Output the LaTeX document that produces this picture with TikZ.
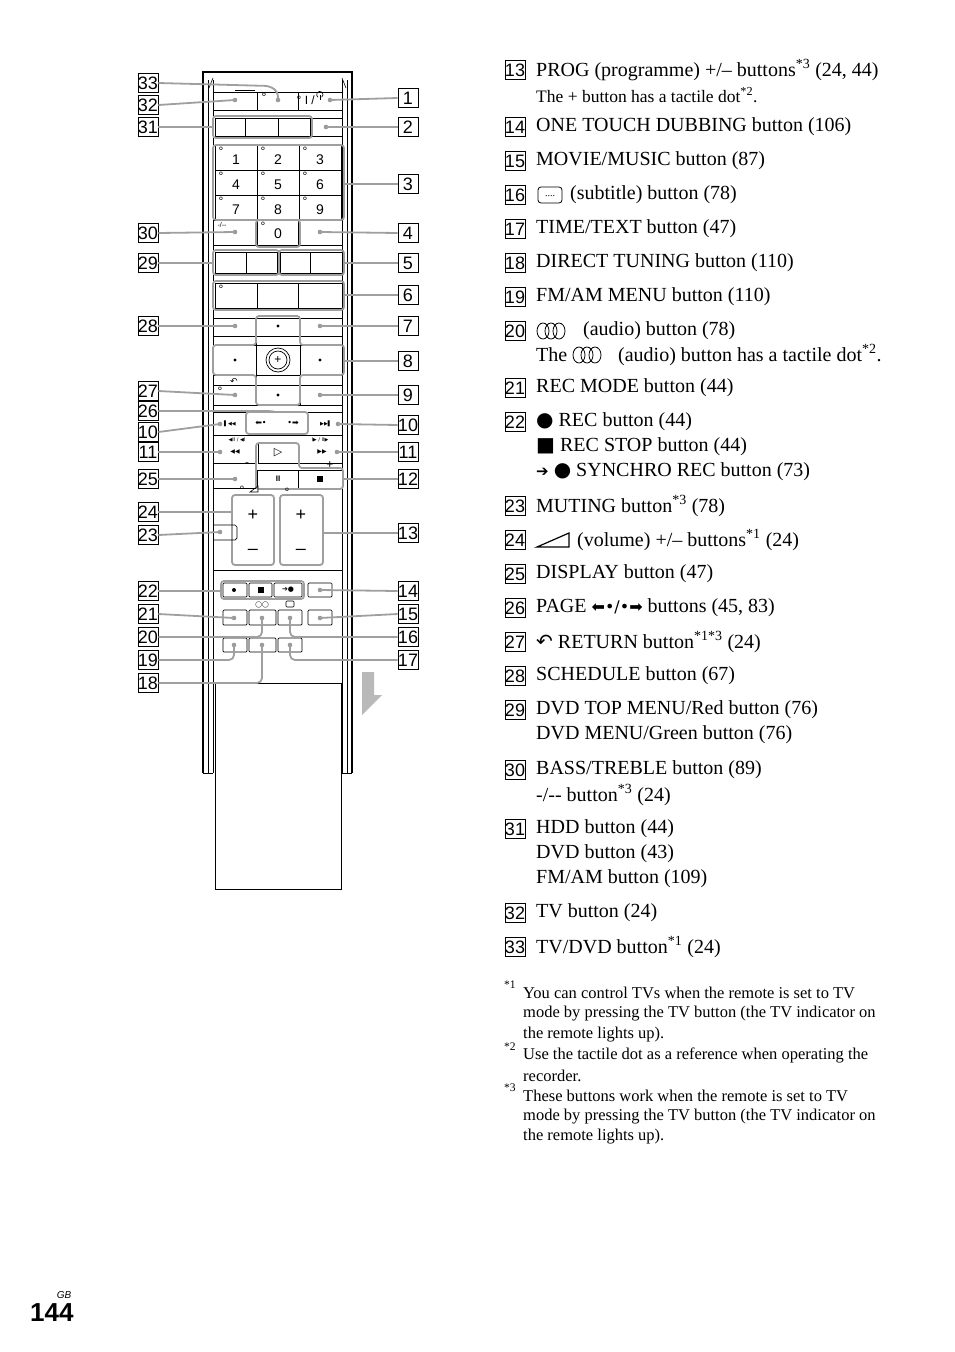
\documentclass[tikz,border=0pt]{standalone}
\usepackage{fontspec}
\setmainfont{Liberation Serif}
\setsansfont{Liberation Sans}
\newfontfamily\djv{DejaVu Sans}
\newcommand\sps[1]{\textsuperscript{#1}}
\begin{document}
\begin{tikzpicture}[x=1pt,y=-1pt,
  lbl/.style={draw,line width=0.8pt,inner sep=0pt,minimum width=20,minimum height=19,font=\sffamily\fontsize{18}{18}\selectfont},
  lead/.style={draw=gray!75,line width=1.8pt,rounded corners=5},
  grp/.style={draw=gray!75,line width=1.8pt,rounded corners=3},
  btn/.style={draw,line width=0.7pt},
  itm/.style={anchor=west,font=\fontsize{20}{24}\selectfont,inner sep=0pt},
  sub/.style={anchor=west,font=\fontsize{17.5}{20}\selectfont,inner sep=0pt},
  fn/.style={anchor=west,font=\fontsize{16.5}{18}\selectfont,inner sep=0pt},
  bl/.style={font=\sffamily\fontsize{12}{12}\selectfont,inner sep=0pt}]
\useasboundingbox (0,0) rectangle (954,1352);
% ---------- remote body
\draw[line width=2.5pt] (203,773) -- (203,72) -- (352,72) -- (352,773);
\foreach \x in {208,213,342,347}{\draw[line width=0.7pt] (\x,80) -- (\x,773);}
\draw[line width=0.7pt] (203,773) -- (213,773) (342,773) -- (352,773);
\draw[line width=0.6pt] (213,78) -- (209,88) (342,78) -- (346,88);
\draw[line width=0.6pt] (235,90) -- (255,90);
% flap
\draw[line width=1pt] (215,683) rectangle (341,889);
\draw[line width=0.7pt] (213,570) -- (342,570);
\fill[gray!55] (362,672) -- (374,672) -- (374,695) -- (382,695) -- (362,715) -- cycle;
% ---------- buttons
\draw[btn] (213,92) rectangle (257,110) (257,92) rectangle (298,110) (298,92) rectangle (342,110);
\node[bl,anchor=east] at (315,100) {° I /};
\draw[line width=0.6pt] (318,97.2) arc (125:415:3.2); \draw[line width=0.6pt] (319.8,95) -- (319.8,99.5);
\node[bl] at (264,97) {°};
\draw[btn] (215,118) rectangle (245,136) (245,118) rectangle (278,136) (278,118) rectangle (310,136) (310,118) rectangle (342,136);
% numpad
\foreach \r in {0,1,2}{\foreach \c in {0,1,2}{
  \draw[btn] (215+\c*42,145+\r*25) rectangle (257+\c*42,170+\r*25);}}
\foreach \n/\c/\r in {1/0/0,2/1/0,3/2/0,4/0/1,5/1/1,6/2/1,7/0/2,8/1/2,9/2/2}{
  \node[font=\sffamily\fontsize{14}{14}\selectfont] at (236+\c*42,160+\r*25) {\n};
  \node[bl] at (221+\c*42,151+\r*25) {°};}
\draw[btn] (213,220) rectangle (257,245) (257,220) rectangle (298,245) (298,220) rectangle (342,245);
\node[font=\sffamily\fontsize{14}{14}\selectfont] at (278,234) {0};
\node[bl] at (263,226) {°};
\node[font=\sffamily\fontsize{7}{7}\selectfont] at (222,225) {-/{-}{-}};
\draw[btn] (215,252) rectangle (246,273) (246,252) rectangle (277,273) (280,252) rectangle (310,273) (310,252) rectangle (342,273);
\draw[btn] (215,283) rectangle (257,308) (257,283) rectangle (298,308) (298,283) rectangle (342,308);
\node[bl] at (221,289) {°};
% cross pad
\draw[btn] (213,318) -- (342,318) (213,336) -- (342,336) (213,385) -- (342,385) (213,405) -- (342,405);
\draw[btn] (256,318) -- (256,405) (300,318) -- (300,405);
\draw[btn] (213,345) -- (342,345) (213,375) -- (342,375);
\draw[grp] (256,316) -- (300,316) -- (300,345) -- (344,345) -- (344,375) -- (300,375) -- (300,405) -- (256,405) -- (256,375) -- (213,375) -- (213,345) -- (256,345) -- cycle;
\draw[line width=0.7pt,fill=white] (278,360) circle (12) (278,360) circle (9);
\node[bl] at (278,360) {+};
\foreach \p in {(278,326),(278,395),(235,360),(320,360)}{\fill \p circle (1.6);}
\node[font=\djv\fontsize{9}{9}\selectfont] at (234,381) {↶};
\node[bl] at (220,391) {°};
% page row
\draw[btn] (213,412) -- (342,412) (213,435) -- (342,435);
\draw[grp] (246,412) rectangle (308,434);
\node[font=\djv\fontsize{8}{8}\selectfont] at (261,423) {⬅•};
\node[font=\djv\fontsize{8}{8}\selectfont] at (293,423) {•➡};
\node[font=\djv\fontsize{5}{5}\selectfont] at (230,424) {▌◀◀};
\node[font=\djv\fontsize{5}{5}\selectfont] at (326,424) {▶▶▌};
\node[font=\djv\fontsize{5}{5}\selectfont] at (237,440) {◀II / ◀I};
\node[font=\djv\fontsize{5}{5}\selectfont] at (320,440) {I▶ / II▶};
\node[font=\djv\fontsize{6}{6}\selectfont] at (235,452) {◀◀};
\node[font=\djv\fontsize{6}{6}\selectfont] at (322,452) {▶▶};
\draw[btn] (258,443) rectangle (298,463);
\node[font=\djv\fontsize{11}{11}\selectfont] at (278,453) {▷};
\node[bl] at (247,465) {-}; \node[bl] at (330,465) {+};
\draw[btn] (213,463) -- (257,463) (298,463) -- (342,463) (213,488) -- (342,488);
\draw[btn] (257,470) rectangle (298,488) (298,470) rectangle (342,488);
\node[font=\sffamily\bfseries\fontsize{8}{8}\selectfont] at (278,479) {II};
\fill (317,476) rectangle (323,482);
\draw[grp] (256,443) -- (299,443) -- (299,468) -- (343,468) -- (343,489) -- (256,489) -- cycle;
% volume
\draw[grp] (232,495) rectangle (274,565);
\draw[grp] (280,495) rectangle (323,565);
\node[font=\sffamily\fontsize{18}{18}\selectfont] at (253,515) {+};
\node[font=\sffamily\fontsize{18}{18}\selectfont] at (253,552) {–};
\node[font=\sffamily\fontsize{18}{18}\selectfont] at (301,515) {+};
\node[font=\sffamily\fontsize{18}{18}\selectfont] at (301,552) {–};
\draw[line width=0.6pt] (250,492) -- (258,486) -- (258,492) -- cycle;
\node[bl] at (242,490) {°}; \node[bl] at (287,492) {°};
\draw[btn] (213,525) -- (235,525) -- (237,527) -- (237,538) -- (235,540) -- (213,540);
% lower buttons
\draw[btn,rounded corners=1] (223,583) rectangle (247,597) (249,583) rectangle (272,597) (274,583) rectangle (302,597) (308,583) rectangle (332,597);
\draw[grp] (221,581) rectangle (304,599);
\fill (234,590) circle (2);
\fill (258,587) rectangle (264,593);
\node[font=\djv\fontsize{7}{7}\selectfont] at (288,590) {➔●};
\foreach \a/\b in {223/247,249/276,278/302,308/332}{\draw[btn,rounded corners=1] (\a,610) rectangle (\b,625);}
\foreach \a/\b in {223/247,249/276,278/302}{\draw[btn,rounded corners=1] (\a,638) rectangle (\b,652);}
\node[font=\djv\fontsize{6}{6}\selectfont] at (262,605) {◯◯};
\draw[line width=0.6pt,rounded corners=1] (286,601) rectangle (294,607);
% ---------- dots (leader ends)
\foreach \n/\x/\y in {33/278/100,32/235/100,1/330/100,2/326/127,30/235/232,4/320/232,28/235/326,7/320/326,27/235/395,9/320/395,10a/220/424,10b/338/424,11a/220/452,11b/337/452,25/235/479,23/220/532,14/320/590,21/234/618,20/262/618,16/290/618,15/320/618,19/234/645,18/262/645,17/290/645}{
  \coordinate (d\n) at (\x,\y); \fill[gray!80] (\x,\y) circle (2.3);}
% ---------- left labels
\foreach \t/\y/\n in {33/83/L33,32/105/L32,31/127/L31,30/233/L30,29/263/L29,28/326/L28,27/391/L27,26/411/L26,10/432/L10,11/452/L11,25/479/L25,24/512/L24,23/535/L23,22/591/L22,21/614/L21,20/637/L20,19/660/L19,18/683/L18}{
  \node[lbl] (\n) at (148,\y) {\t};}
\foreach \t/\y/\n in {1/98/R1,2/127/R2,3/184/R3,4/233/R4,5/263/R5,6/295/R6,7/326/R7,8/361/R8,9/395/R9,10/425/R10,11/452/R11,12/479/R12,13/533/R13,14/591/R14,15/614/R15,16/637/R16,17/660/R17}{
  \node[lbl] (\n) at (408,\y) {\t};}
% ---------- leaders
\draw[lead] (L33.east) -- (270,86) -- (278,92) -- (d33);
\draw[lead] (L32.east) -- (d32);
\draw[lead] (L31.east) -- (213,127);
\draw[lead] (L30.east) -- (d30);
\draw[lead] (L29.east) -- (213,263);
\draw[lead] (L28.east) -- (d28);
\draw[lead] (L27.east) -- (d27);
\draw[lead] (L26.east) -- (180,411) -- (272,411) -- (276,412);
\draw[lead] (L10.east) -- (d10a);
\draw[lead] (L11.east) -- (d11a);
\draw[lead] (L25.east) -- (d25);
\draw[lead] (L24.east) -- (232,512);
\draw[lead] (L23.east) -- (d23);
\draw[lead] (L22.east) -- (221,591);
\draw[lead] (L21.east) -- (d21);
\draw[lead] (L20.east) -- (262,637) -- (d20);
\draw[lead] (L19.east) -- (234,660) -- (d19);
\draw[lead] (L18.east) -- (262,683) -- (d18);
\draw[lead] (R1.west) -- (d1);
\draw[lead] (R2.west) -- (d2);
\draw[lead] (R3.west) -- (344,184);
\draw[lead] (R4.west) -- (d4);
\draw[lead] (R5.west) -- (344,263);
\draw[lead] (R6.west) -- (344,295);
\draw[lead] (R7.west) -- (d7);
\draw[lead] (R8.west) -- (344,361);
\draw[lead] (R9.west) -- (d9);
\draw[lead] (R10.west) -- (d10b);
\draw[lead] (R11.west) -- (d11b);
\draw[lead] (R12.west) -- (343,479);
\draw[lead] (R13.west) -- (323,533);
\draw[lead] (R14.west) -- (d14);
\draw[lead] (R15.west) -- (d15);
\draw[lead] (R16.west) -- (290,637) -- (d16);
\draw[lead] (R17.west) -- (290,660) -- (d17);
% group outlines
\draw[grp] (213,145) rectangle (344,220);
\draw[grp] (256,220) rectangle (300,247);
\draw[grp] (213,250) rectangle (279,275) (279,250) rectangle (344,275) (213,281) rectangle (344,310) (213,116) rectangle (312,138);
% ---------- right list
\foreach \t/\y/\n in {13/70/T13,14/127/T14,15/161/T15,16/195/T16,17/229/T17,18/263/T18,19/297/T19,20/331/T20,21/388/T21,22/422/T22,23/506/T23,24/540/T24,25/574/T25,26/608/T26,27/642/T27,28/676/T28,29/710/T29,30/770/T30,31/829/T31,32/913/T32,33/947/T33}{
  \node[lbl] (\n) at (515,\y) {\t};}
\def\sx{536}
\node[itm] at (\sx,70) {PROG (programme) +/– buttons\sps{*3} (24, 44)};
\node[sub] at (\sx,95) {The + button has a tactile dot\sps{*2}.};
\node[itm] at (\sx,127) {ONE TOUCH DUBBING button (106)};
\node[itm] at (\sx,161) {MOVIE/MUSIC button (87)};
\draw[line width=0.8pt,rounded corners=3] (538,187) rectangle (562,203);
\node[font=\fontsize{10}{10}\selectfont] at (550,196) {....};
\node[itm] at (570,195) {(subtitle) button (78)};
\node[itm] at (\sx,229) {TIME/TEXT button (47)};
\node[itm] at (\sx,263) {DIRECT TUNING button (110)};
\node[itm] at (\sx,297) {FM/AM MENU button (110)};
\foreach \xx in {543,551,559}{\draw[line width=0.8pt] (\xx,331) ellipse (6 and 8);}
\node[itm] at (583,331) {(audio) button (78)};
\node[itm] at (\sx,355) {The};
\foreach \xx in {579,587,595}{\draw[line width=0.8pt] (\xx,355) ellipse (6 and 8);}
\node[itm] at (618,355) {(audio) button has a tactile dot\sps{*2}.};
\node[itm] at (\sx,388) {REC MODE button (44)};
\node[itm] at (\sx,422) {{\djv●} REC button (44)};
\node[itm] at (\sx,447) {{\djv■} REC STOP button (44)};
\node[itm] at (\sx,472) {{\djv\fontsize{15}{15}\selectfont➔} {\djv●} SYNCHRO REC button (73)};
\node[itm] at (\sx,506) {MUTING button\sps{*3} (78)};
\draw[line width=1.2pt] (537,547) -- (569,547) -- (569,533) -- cycle;
\node[itm] at (577,540) {(volume) +/– buttons\sps{*1} (24)};
\node[itm] at (\sx,574) {DISPLAY button (47)};
\node[itm] at (\sx,608) {PAGE {\djv\fontsize{16}{16}\selectfont⬅•/•➡} buttons (45, 83)};
\node[itm] at (\sx,642) {{\djv↶} RETURN button\sps{*1*3} (24)};
\node[itm] at (\sx,676) {SCHEDULE button (67)};
\node[itm] at (\sx,710) {DVD TOP MENU/Red button (76)};
\node[itm] at (\sx,735) {DVD MENU/Green button (76)};
\node[itm] at (\sx,770) {BASS/TREBLE button (89)};
\node[itm] at (\sx,795) {-/{-}{-} button\sps{*3} (24)};
\node[itm] at (\sx,829) {HDD button (44)};
\node[itm] at (\sx,854) {DVD button (43)};
\node[itm] at (\sx,879) {FM/AM button (109)};
\node[itm] at (\sx,913) {TV button (24)};
\node[itm] at (\sx,947) {TV/DVD button\sps{*1} (24)};
% footnotes
\node[fn] at (504,988) {\sps{*1}};
\node[fn] at (523,993) {You can control TVs when the remote is set to TV};
\node[fn] at (523,1014) {mode by pressing the TV button (the TV indicator on};
\node[fn] at (523,1035) {the remote lights up).};
\node[fn] at (504,1050) {\sps{*2}};
\node[fn] at (523,1055) {Use the tactile dot as a reference when operating the};
\node[fn] at (523,1076) {recorder.};
\node[fn] at (504,1091) {\sps{*3}};
\node[fn] at (523,1096) {These buttons work when the remote is set to TV};
\node[fn] at (523,1117) {mode by pressing the TV button (the TV indicator on};
\node[fn] at (523,1137) {the remote lights up).};
% page number
\node[font=\sffamily\itshape\fontsize{10}{10}\selectfont] at (64,1295) {GB};
\node[font=\sffamily\bfseries\fontsize{26}{26}\selectfont,anchor=west,inner sep=0pt] at (30,1313) {144};
\end{tikzpicture}
\end{document}
